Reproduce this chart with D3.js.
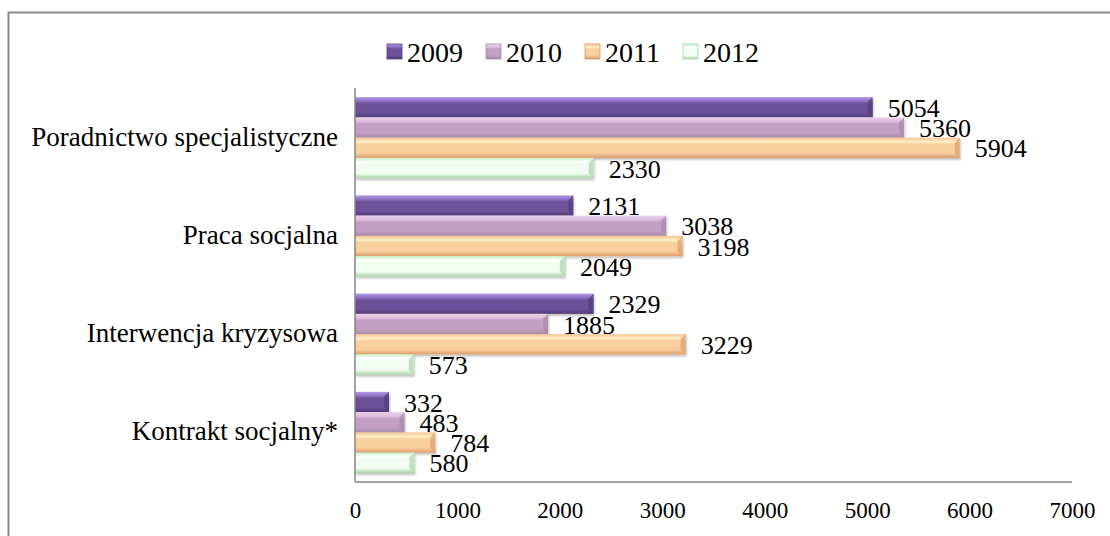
<!DOCTYPE html>
<html>
<head>
<meta charset="utf-8">
<script src="https://cdn.jsdelivr.net/npm/d3@7"></script>
<style>
  html, body { margin: 0; padding: 0; background: #fff; }
  svg, svg text { font-family: "Times New Roman", "Liberation Serif", Tinos, serif; }
  .axis-line { stroke: #868686; stroke-width: 1.5; }
</style>
</head>
<body>
<div class="app"></div>
<script>
'use strict'

// dane
var categories = ["Poradnictwo specjalistyczne", "Praca socjalna", "Interwencja kryzysowa", "Kontrakt socjalny*"];
var years = ["2009", "2010", "2011", "2012"];
var values2009 = [5054, 2131, 2329, 332];
var values2010 = [5360, 3038, 1885, 483];
var values2011 = [5904, 3198, 3229, 784];
var values2012 = [2330, 2049, 573, 580];
var xTicks = [0, 1000, 2000, 3000, 4000, 5000, 6000, 7000];

var seriesValues = [values2009, values2010, values2011, values2012];

// kolory (góra, blask, środek, dół)
var palette = {
  "2009": ["#b497e6", "#8a6dbf", "#6b5199", "#513c78"],
  "2010": ["#ecd0ec", "#dcbcdc", "#c39fc3", "#a68aa5"],
  "2011": ["#f6c392", "#fff0c6", "#f9cfa0", "#dc9c66"],
  "2012": ["#c9f2c9", "#ffffff", "#f2fcf2", "#a9d6a9"]
};

var W = 1110, H = 536;

var svg = d3.select(".app").append("svg")
  .attr("width", W)
  .attr("height", H);

var defs = svg.append("defs");

years.forEach(function(y) {
  var c = palette[y];
  var g = defs.append("linearGradient")
    .attr("id", "grad" + y)
    .attr("x1", 0).attr("y1", 0).attr("x2", 0).attr("y2", 1);
  g.append("stop").attr("offset", "0%").attr("stop-color", c[0]);
  g.append("stop").attr("offset", "22%").attr("stop-color", c[1]);
  g.append("stop").attr("offset", "32%").attr("stop-color", c[2]);
  g.append("stop").attr("offset", "76%").attr("stop-color", c[2]);
  g.append("stop").attr("offset", "100%").attr("stop-color", c[3]);
});

var shadow = defs.append("filter").attr("id", "shadow")
  .attr("x", "-5%").attr("y", "-20%").attr("width", "110%").attr("height", "160%");
shadow.append("feDropShadow")
  .attr("dx", 1).attr("dy", 2).attr("stdDeviation", 1.2)
  .attr("flood-color", "#000").attr("flood-opacity", 0.25);

// ramka
svg.append("rect")
  .attr("x", 8.5).attr("y", 12.5)
  .attr("width", 1200).attr("height", 600)
  .attr("fill", "none")
  .attr("stroke", "#888")
  .attr("stroke-width", 2);

// skale
var x = d3.scaleLinear().domain([0, 7000]).range([355, 1072]);

var y0 = d3.scaleBand()
  .domain(categories)
  .range([88.5, 481.5])
  .paddingInner(0.175)
  .paddingOuter(0.0875);

var y1 = d3.scaleBand()
  .domain(years)
  .range([0, y0.bandwidth()])
  .padding(0);

// słupki
var groups = svg.append("g").selectAll("g")
  .data(categories)
  .join("g")
  .attr("transform", function(d) { return "translate(0," + y0(d) + ")"; });

var bars = groups.selectAll("g.bar")
  .data(function(d, i) {
    return years.map(function(yr, j) { return { year: yr, value: seriesValues[j][i] }; });
  })
  .join("g")
  .attr("class", "bar");

bars.append("rect")
  .attr("x", x(0))
  .attr("y", function(d) { return y1(d.year); })
  .attr("width", function(d) { return x(d.value) - x(0); })
  .attr("height", y1.bandwidth())
  .attr("fill", function(d) { return "url(#grad" + d.year + ")"; })
  .attr("filter", "url(#shadow)");

// ukośny koniec słupka (efekt fazy)
bars.append("path")
  .attr("d", function(d) {
    var xe = x(d.value), yt = y1(d.year), h = y1.bandwidth(), b = 5;
    return "M" + xe + "," + yt + "L" + (xe - b) + "," + (yt + b) +
           "L" + (xe - b) + "," + (yt + h - b) + "L" + xe + "," + (yt + h) + "Z";
  })
  .attr("fill", function(d) { return palette[d.year][3]; })
  .attr("opacity", 0.7);

// etykiety wartości
bars.append("text")
  .attr("x", function(d) { return x(d.value) + 15; })
  .attr("y", function(d) { return y1(d.year) + y1.bandwidth() - 0.5; })
  .attr("font-size", 26)
  .attr("fill", "#000")
  .text(function(d) { return d.value; });

// osie
svg.append("line").attr("class", "axis-line")
  .attr("x1", x(0)).attr("x2", x(0))
  .attr("y1", 88).attr("y2", 482);

svg.append("line").attr("class", "axis-line")
  .attr("x1", x(0)).attr("x2", x(7000))
  .attr("y1", 482).attr("y2", 482);

var xAxis = d3.axisBottom(x).tickValues(xTicks).tickFormat(d3.format("d")).tickSize(0).tickPadding(0);
var xg = svg.append("g")
  .attr("transform", "translate(0,518)")
  .call(xAxis)
  .attr("font-family", null);
xg.select(".domain").remove();
xg.selectAll("text")
  .attr("dy", 0)
  .attr("font-size", 23)
  .attr("fill", "#000");

var yAxis = d3.axisLeft(y0).tickSize(0).tickPadding(17);
var yg = svg.append("g")
  .attr("transform", "translate(" + x(0) + ",0)")
  .call(yAxis)
  .attr("font-family", null);
yg.select(".domain").remove();
yg.selectAll("text")
  .attr("dy", "0.3em")
  .attr("font-size", 27)
  .attr("fill", "#000");

// legenda
var legend = svg.append("g").attr("transform", "translate(387,0)");
var lx = 0;
years.forEach(function(yr) {
  var item = legend.append("g").attr("transform", "translate(" + lx + ",0)");
  item.append("rect")
    .attr("x", 0).attr("y", 44)
    .attr("width", 15).attr("height", 15)
    .attr("fill", "url(#grad" + yr + ")")
    .attr("stroke", palette[yr][3])
    .attr("stroke-width", 0.8);
  var t = item.append("text")
    .attr("x", 20).attr("y", 62)
    .attr("font-size", 28)
    .attr("fill", "#000")
    .text(yr);
  lx += 20 + t.node().getComputedTextLength() + 23;
});
</script>
</body>
</html>
